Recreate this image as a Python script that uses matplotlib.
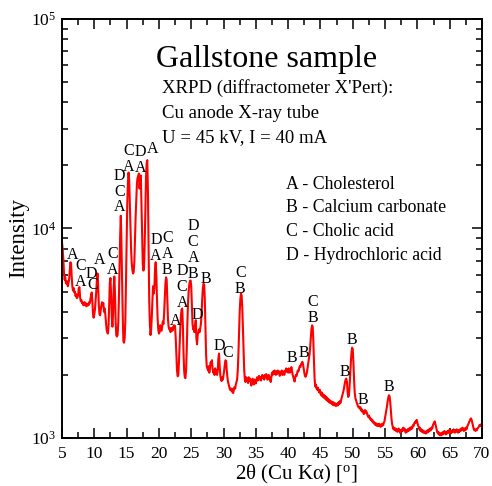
import numpy as np
import matplotlib
matplotlib.use('Agg')
import matplotlib.pyplot as plt
from matplotlib.ticker import MultipleLocator, LogLocator, NullFormatter

#####################################################################
# XRPD scan (2theta in deg, counts)

two_theta = [
    5.0, 5.1, 5.2, 5.3, 5.4, 5.5, 5.6, 5.7, 5.8, 5.9,
    6.0, 6.1, 6.2, 6.3, 6.4, 6.5, 6.6, 6.7, 6.8, 6.9,
    7.0, 7.1, 7.2, 7.3, 7.4, 7.5, 7.6, 7.7, 7.8, 7.9,
    8.0, 8.1, 8.2, 8.3, 8.4, 8.5, 8.6, 8.7, 8.8, 8.9,
    9.0, 9.1, 9.2, 9.3, 9.4, 9.5, 9.6, 9.7, 9.8, 9.9,
    10.0, 10.1, 10.2, 10.3, 10.4, 10.5, 10.6, 10.7, 10.8, 10.9,
    11.0, 11.1, 11.2, 11.3, 11.4, 11.5, 11.6, 11.7, 11.8, 11.9,
    12.0, 12.1, 12.2, 12.3, 12.4, 12.5, 12.6, 12.7, 12.8, 12.9,
    13.0, 13.1, 13.2, 13.3, 13.4, 13.5, 13.6, 13.7, 13.8, 13.9,
    14.0, 14.1, 14.2, 14.3, 14.4, 14.5, 14.6, 14.7, 14.8, 14.9,
    15.0, 15.1, 15.2, 15.3, 15.4, 15.5, 15.6, 15.7, 15.8, 15.9,
    16.0, 16.1, 16.2, 16.3, 16.4, 16.5, 16.6, 16.7, 16.8, 16.9,
    17.0, 17.1, 17.2, 17.3, 17.4, 17.5, 17.6, 17.7, 17.8, 17.9,
    18.0, 18.1, 18.2, 18.3, 18.4, 18.5, 18.6, 18.7, 18.8, 18.9,
    19.0, 19.1, 19.2, 19.3, 19.4, 19.5, 19.6, 19.7, 19.8, 19.9,
    20.0, 20.1, 20.2, 20.3, 20.4, 20.5, 20.6, 20.7, 20.8, 20.9,
    21.0, 21.1, 21.2, 21.3, 21.4, 21.5, 21.6, 21.7, 21.8, 21.9,
    22.0, 22.1, 22.2, 22.3, 22.4, 22.5, 22.6, 22.7, 22.8, 22.9,
    23.0, 23.1, 23.2, 23.3, 23.4, 23.5, 23.6, 23.7, 23.8, 23.9,
    24.0, 24.1, 24.2, 24.3, 24.4, 24.5, 24.6, 24.7, 24.8, 24.9,
    25.0, 25.1, 25.2, 25.3, 25.4, 25.5, 25.6, 25.7, 25.8, 25.9,
    26.0, 26.1, 26.2, 26.3, 26.4, 26.5, 26.6, 26.7, 26.8, 26.9,
    27.0, 27.1, 27.2, 27.3, 27.4, 27.5, 27.6, 27.7, 27.8, 27.9,
    28.0, 28.1, 28.2, 28.3, 28.4, 28.5, 28.6, 28.7, 28.8, 28.9,
    29.0, 29.1, 29.2, 29.3, 29.4, 29.5, 29.6, 29.7, 29.8, 29.9,
    30.0, 30.1, 30.2, 30.3, 30.4, 30.5, 30.6, 30.7, 30.8, 30.9,
    31.0, 31.1, 31.2, 31.3, 31.4, 31.5, 31.6, 31.7, 31.8, 31.9,
    32.0, 32.1, 32.2, 32.3, 32.4, 32.5, 32.6, 32.7, 32.8, 32.9,
    33.0, 33.1, 33.2, 33.3, 33.4, 33.5, 33.6, 33.7, 33.8, 33.9,
    34.0, 34.1, 34.2, 34.3, 34.4, 34.5, 34.6, 34.7, 34.8, 34.9,
    35.0, 35.1, 35.2, 35.3, 35.4, 35.5, 35.6, 35.7, 35.8, 35.9,
    36.0, 36.1, 36.2, 36.3, 36.4, 36.5, 36.6, 36.7, 36.8, 36.9,
    37.0, 37.1, 37.2, 37.3, 37.4, 37.5, 37.6, 37.7, 37.8, 37.9,
    38.0, 38.1, 38.2, 38.3, 38.4, 38.5, 38.6, 38.7, 38.8, 38.9,
    39.0, 39.1, 39.2, 39.3, 39.4, 39.5, 39.6, 39.7, 39.8, 39.9,
    40.0, 40.1, 40.2, 40.3, 40.4, 40.5, 40.6, 40.7, 40.8, 40.9,
    41.0, 41.1, 41.2, 41.3, 41.4, 41.5, 41.6, 41.7, 41.8, 41.9,
    42.0, 42.1, 42.2, 42.3, 42.4, 42.5, 42.6, 42.7, 42.8, 42.9,
    43.0, 43.1, 43.2, 43.3, 43.4, 43.5, 43.6, 43.7, 43.8, 43.9,
    44.0, 44.1, 44.2, 44.3, 44.4, 44.5, 44.6, 44.7, 44.8, 44.9,
    45.0, 45.1, 45.2, 45.3, 45.4, 45.5, 45.6, 45.7, 45.8, 45.9,
    46.0, 46.1, 46.2, 46.3, 46.4, 46.5, 46.6, 46.7, 46.8, 46.9,
    47.0, 47.1, 47.2, 47.3, 47.4, 47.5, 47.6, 47.7, 47.8, 47.9,
    48.0, 48.1, 48.2, 48.3, 48.4, 48.5, 48.6, 48.7, 48.8, 48.9,
    49.0, 49.1, 49.2, 49.3, 49.4, 49.5, 49.6, 49.7, 49.8, 49.9,
    50.0, 50.1, 50.2, 50.3, 50.4, 50.5, 50.6, 50.7, 50.8, 50.9,
    51.0, 51.1, 51.2, 51.3, 51.4, 51.5, 51.6, 51.7, 51.8, 51.9,
    52.0, 52.1, 52.2, 52.3, 52.4, 52.5, 52.6, 52.7, 52.8, 52.9,
    53.0, 53.1, 53.2, 53.3, 53.4, 53.5, 53.6, 53.7, 53.8, 53.9,
    54.0, 54.1, 54.2, 54.3, 54.4, 54.5, 54.6, 54.7, 54.8, 54.9,
    55.0, 55.1, 55.2, 55.3, 55.4, 55.5, 55.6, 55.7, 55.8, 55.9,
    56.0, 56.1, 56.2, 56.3, 56.4, 56.5, 56.6, 56.7, 56.8, 56.9,
    57.0, 57.1, 57.2, 57.3, 57.4, 57.5, 57.6, 57.7, 57.8, 57.9,
    58.0, 58.1, 58.2, 58.3, 58.4, 58.5, 58.6, 58.7, 58.8, 58.9,
    59.0, 59.1, 59.2, 59.3, 59.4, 59.5, 59.6, 59.7, 59.8, 59.9,
    60.0, 60.1, 60.2, 60.3, 60.4, 60.5, 60.6, 60.7, 60.8, 60.9,
    61.0, 61.1, 61.2, 61.3, 61.4, 61.5, 61.6, 61.7, 61.8, 61.9,
    62.0, 62.1, 62.2, 62.3, 62.4, 62.5, 62.6, 62.7, 62.8, 62.9,
    63.0, 63.1, 63.2, 63.3, 63.4, 63.5, 63.6, 63.7, 63.8, 63.9,
    64.0, 64.1, 64.2, 64.3, 64.4, 64.5, 64.6, 64.7, 64.8, 64.9,
    65.0, 65.1, 65.2, 65.3, 65.4, 65.5, 65.6, 65.7, 65.8, 65.9,
    66.0, 66.1, 66.2, 66.3, 66.4, 66.5, 66.6, 66.7, 66.8, 66.9,
    67.0, 67.1, 67.2, 67.3, 67.4, 67.5, 67.6, 67.7, 67.8, 67.9,
    68.0, 68.1, 68.2, 68.3, 68.4, 68.5, 68.6, 68.7, 68.8, 68.9,
    69.0, 69.1, 69.2, 69.3, 69.4, 69.5, 69.6, 69.7, 69.8, 69.9,
    70.0,
]

counts = [
    8600, 8000, 7200, 6200, 5700, 5850, 5500, 5450, 5600, 5300,
    5500, 5700, 6300, 6900, 6800, 5900, 5300, 5050, 5200, 4950,
    5000, 4750, 4850, 4650, 4700, 4850, 5200, 5250, 4700, 4500,
    4550, 4400, 4450, 4300, 4350, 4450, 4300, 4400, 4250, 4350,
    4350, 4300, 4450, 4400, 4600, 4800, 4950, 4500, 3900, 3750,
    3900, 4100, 4500, 5000, 5700, 6100, 5300, 4300, 3900, 3850,
    4100, 4300, 4450, 4300, 4400, 4000, 4150, 3900, 3600, 3300,
    3200, 3150, 3400, 4300, 5500, 5800, 4800, 3800, 3400, 3900,
    5200, 5900, 4900, 3600, 3100, 3050, 3100, 3500, 4500, 6500,
    9200, 11500, 8500, 5500, 3800, 2900, 2850, 3000, 3600, 5500,
    9000, 13000, 16500, 18500, 17000, 13000, 9500, 7800, 6800, 6300,
    6100, 6200, 7000, 9000, 11500, 14000, 16500, 17500, 17800, 18300,
    15500, 17000, 17900, 13000, 9000, 6800, 6300, 6600, 8500, 12500,
    17500, 20500, 21200, 15000, 8000, 4500, 3500, 3100, 3300, 3800,
    4600, 5300, 4900, 5200, 6400, 6900, 6000, 4600, 3700, 3300,
    3150, 3200, 3450, 3300, 3250, 3400, 3600, 3500, 3900, 4600,
    5400, 5850, 5700, 4500, 3700, 3400, 3300, 3350, 3200, 3300,
    3350, 3250, 3400, 3350, 3450, 3400, 3000, 2500, 2100, 1970,
    2000, 2300, 2800, 3300, 3800, 4100, 4150, 3500, 2600, 2100,
    1950, 1930, 2100, 2600, 3500, 4400, 5000, 5400, 5600, 5650,
    5300, 4300, 3500, 3300, 3400, 3200, 3450, 3650, 3000, 2800,
    3100, 3200, 3300, 3200, 3350, 3500, 3900, 4600, 5200, 5450,
    5400, 4600, 3300, 2500, 2200, 2150, 2100, 2200, 2050, 2150,
    2300, 2250, 2350, 2150, 2050, 2100, 2000, 2150, 2050, 2100,
    2000, 2100, 2400, 2530, 2200, 2000, 1900, 1870, 1950, 1900,
    2000, 2100, 2250, 2350, 2330, 2100, 1950, 1850, 1800, 1750,
    1700, 1720, 1680, 1720, 1650, 1640, 1700, 1750, 1720, 1800,
    1850, 1900, 2100, 2500, 3200, 4000, 4600, 4890, 4800, 4200,
    3300, 2500, 2100, 1900, 1850, 1950, 1880, 1900, 1830, 1950,
    1870, 1920, 1850, 1780, 1880, 1920, 1850, 1800, 1900, 1870,
    1820, 1900, 1950, 1880, 1920, 1980, 1900, 1950, 1880, 1960,
    2000, 1930, 1980, 1900, 2000, 1950, 2020, 1980, 1900, 1970,
    2000, 1900, 1950, 1850, 1950, 2050, 2000, 2080, 2020, 2100,
    2050, 2000, 2080, 2020, 2100, 2050, 2080, 1980, 2060, 2040,
    2100, 2000, 2080, 2050, 2000, 2100, 2060, 2150, 2080, 2120,
    2050, 2150, 2100, 2050, 2120, 2180, 2100, 2000, 1950, 1900,
    1860, 1950, 2000, 1980, 2050, 2100, 2080, 2150, 2200, 2180,
    2250, 2280, 2310, 2250, 2150, 2050, 1980, 1960, 2000, 2050,
    2150, 2250, 2350, 2500, 2700, 3000, 3300, 3450, 3400, 2900,
    2300, 1900, 1760, 1800, 1720, 1700, 1740, 1680, 1650, 1700,
    1640, 1600, 1650, 1580, 1620, 1560, 1600, 1540, 1580, 1520,
    1560, 1500, 1540, 1480, 1520, 1470, 1500, 1460, 1490, 1440,
    1480, 1430, 1470, 1450, 1420, 1440, 1460, 1430, 1480, 1450,
    1500, 1470, 1520, 1560, 1600, 1650, 1700, 1780, 1850, 1900,
    1920, 1850, 1650, 1570, 1600, 1750, 2000, 2300, 2550, 2700,
    2650, 2300, 1900, 1650, 1550, 1520, 1480, 1450, 1420, 1400,
    1410, 1380, 1400, 1350, 1370, 1330, 1350, 1300, 1330, 1360,
    1320, 1340, 1310, 1280, 1260, 1280, 1240, 1250, 1220, 1230,
    1200, 1210, 1180, 1190, 1160, 1180, 1150, 1170, 1140, 1160,
    1140, 1170, 1150, 1130, 1160, 1140, 1170, 1150, 1180, 1200,
    1250, 1300, 1350, 1420, 1500, 1560, 1600, 1580, 1480, 1350,
    1230, 1160, 1130, 1100, 1120, 1090, 1110, 1080, 1100, 1070,
    1090, 1110, 1080, 1060, 1090, 1070, 1100, 1080, 1120, 1090,
    1110, 1080, 1060, 1090, 1070, 1100, 1080, 1110, 1090, 1120,
    1100, 1130, 1110, 1150, 1140, 1170, 1190, 1180, 1210, 1220,
    1180, 1150, 1130, 1100, 1120, 1080, 1100, 1070, 1090, 1060,
    1080, 1060, 1070, 1050, 1080, 1060, 1090, 1070, 1100, 1080,
    1110, 1090, 1120, 1110, 1150, 1170, 1190, 1200, 1160, 1120,
    1090, 1060, 1070, 1040, 1060, 1030, 1050, 1030, 1060, 1040,
    1070, 1050, 1080, 1060, 1040, 1070, 1050, 1080, 1060, 1090,
    1070, 1050, 1080, 1060, 1090, 1070, 1100, 1080, 1060, 1090,
    1070, 1100, 1080, 1060, 1090, 1070, 1100, 1080, 1110, 1090,
    1120, 1100, 1080, 1110, 1090, 1120, 1100, 1130, 1150, 1170,
    1190, 1210, 1230, 1240, 1220, 1180, 1140, 1110, 1090, 1100,
    1080, 1100, 1090, 1110, 1120, 1130, 1150, 1140, 1160, 1150,
    1140,
]

# phase letters over the peaks (x, y of lowest letter, letters top->bottom)
peak_x = [6.65, 7.9, 9.5, 9.75, 10.78, 12.84, 13.87, 15.27, 17.17, 19.03,
          19.55, 21.3, 22.6, 23.6, 25.3, 25.94, 27.3, 29.35, 30.58, 32.6,
          40.55, 42.45, 43.8, 48.8, 49.93, 51.63, 55.65]
peak_y = [7440, 5550, 6090, 5350, 7040, 6310, 12600, 19700, 19500, 24000,
          7360, 6310, 3620, 4410, 6090, 3850, 5760, 2740, 2550, 5160,
          2400, 2550, 3720, 2070, 2950, 1520, 1750]
peak_txt = ['A', 'CA', 'D', 'C', 'A', 'CA', 'DCA', 'CA', 'DA', 'A',
            'DA', 'CAB', 'A', 'DCA', 'DCAB', 'D', 'B', 'D', 'C', 'CB',
            'B', 'B', 'CB', 'B', 'B', 'B', 'B']

info_lines = ["XRPD (diffractometer X'Pert):", "Cu anode X-ray tube",
              "U = 45 kV, I = 40 mA"]
phase_lines = ["A - Cholesterol", "B - Calcium carbonate",
               "C - Cholic acid", "D - Hydrochloric acid"]

#####################################################################

plt.rcParams['font.family'] = 'Liberation Serif'
plt.rcParams['mathtext.fontset'] = 'custom'
plt.rcParams['mathtext.rm'] = 'Liberation Serif'
plt.rcParams['mathtext.it'] = 'Liberation Serif:italic'

W, H = 492, 486
fig = plt.figure(figsize=(W / 100, H / 100), dpi=100)
ax = fig.add_axes([62 / W, 1 - 438 / H, 420 / W, 419 / H])

ax.semilogy(two_theta, counts, color='#ff0000', lw=1.5)
ax.set_xlim(5, 70)
ax.set_ylim(1e3, 1e5)

ax.xaxis.set_major_locator(MultipleLocator(5))
ax.xaxis.set_minor_locator(MultipleLocator(2.5))
ax.yaxis.set_major_locator(LogLocator(base=10))
ax.yaxis.set_minor_locator(LogLocator(base=10, subs=np.arange(2, 10)))
ax.yaxis.set_minor_formatter(NullFormatter())
ax.tick_params(which='both', direction='in', top=True, right=True,
               width=1.1, labelsize=12.5)
ax.tick_params(which='major', length=7)
ax.tick_params(which='minor', length=4)
ax.tick_params(axis='x', pad=6)
ax.tick_params(axis='y', pad=4)
for s in ax.spines.values():
    s.set_linewidth(1.4)

for x, y, t in zip(peak_x, peak_y, peak_txt):
    for k, ch in enumerate(t[::-1]):
        ax.annotate(ch, (x, y), xytext=(0, k * 11.5), textcoords='offset points',
                    ha='center', va='center', fontsize=11.5)

fig.text(267 / W, 1 - 67 / H, 'Gallstone sample', fontsize=23,
         ha='center', va='baseline')
for i, s in enumerate(info_lines):
    fig.text(162 / W, 1 - (93 + 24.5 * i) / H, s, fontsize=13.5, va='baseline')
for i, s in enumerate(phase_lines):
    fig.text(286 / W, 1 - (189 + 23.5 * i) / H, s, fontsize=12.8, va='baseline')

fig.text(19 / W, 1 - 238 / H, 'Intensity', fontsize=16.5, rotation=90,
         ha='center', va='center')
fig.text(296 / W, 1 - 479 / H, r'2θ (Cu Kα) [$^{\mathrm{o}}$]', fontsize=15,
         ha='center', va='baseline')

fig.savefig('out.png', dpi=100)
